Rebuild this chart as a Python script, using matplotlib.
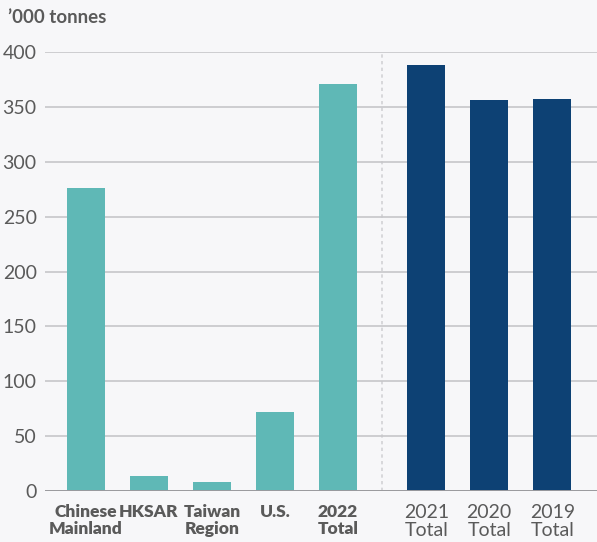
import matplotlib.pyplot as plt
import numpy as np

plt.rcParams['font.family'] = ['Lato', 'DejaVu Sans']

# 2022 breakdown by origin, then annual totals
origins = ['Chinese\nMainland', 'HKSAR', 'Taiwan\nRegion', 'U.S.', '2022\nTotal']
origin_vals = [276, 14, 8, 72, 371]
years = ['2021\nTotal', '2020\nTotal', '2019\nTotal']
year_vals = [388, 356, 357]
yticks = [0, 50, 100, 150, 200, 250, 300, 350, 400]

bg = '#f7f7f9'
teal = '#5fb8b6'
navy = '#0d4174'
txt = '#5a5a5a'

fig = plt.figure(figsize=(5.97, 5.42), dpi=100, facecolor=bg)
ax = fig.add_axes([0.0754, 0.094, 0.9246, 0.81])
ax.set_facecolor(bg)

x1 = np.arange(len(origins))
x2 = np.arange(len(years)) + 5.4
ax.bar(x1, origin_vals, width=0.6, color=teal, zorder=3)
ax.bar(x2, year_vals, width=0.6, color=navy, zorder=3)

ax.set_ylim(0, 400)
ax.set_xlim(-0.65, 8.11)
ax.set_yticks(yticks)
ax.yaxis.grid(True, color='#c6c6ca', linewidth=1.2, zorder=0)
ax.axhline(0, color='#9a9a9e', linewidth=1.4, zorder=4)
ax.axvline(4.7, color='#d2d2d6', linewidth=1.2, linestyle=(0, (2, 2)), zorder=1)

for s in ax.spines.values():
    s.set_visible(False)
ax.tick_params(axis='y', length=0, labelsize=14, colors=txt, pad=6)
ax.tick_params(axis='x', length=0, labelsize=12.5, colors=txt, pad=9)

ax.set_xticks(list(x1) + list(x2))
ax.set_xticklabels(origins + years, linespacing=1.1)
for i, lab in enumerate(ax.get_xticklabels()):
    if i < len(origins):
        lab.set_fontweight('heavy')
    else:
        lab.set_fontsize(14)

fig.text(0.013, 0.967, '\u2019000 tonnes', fontsize=13.5, fontweight='bold',
         color=txt, va='center', ha='left')

fig.savefig('out.png', dpi=100, facecolor=bg)
